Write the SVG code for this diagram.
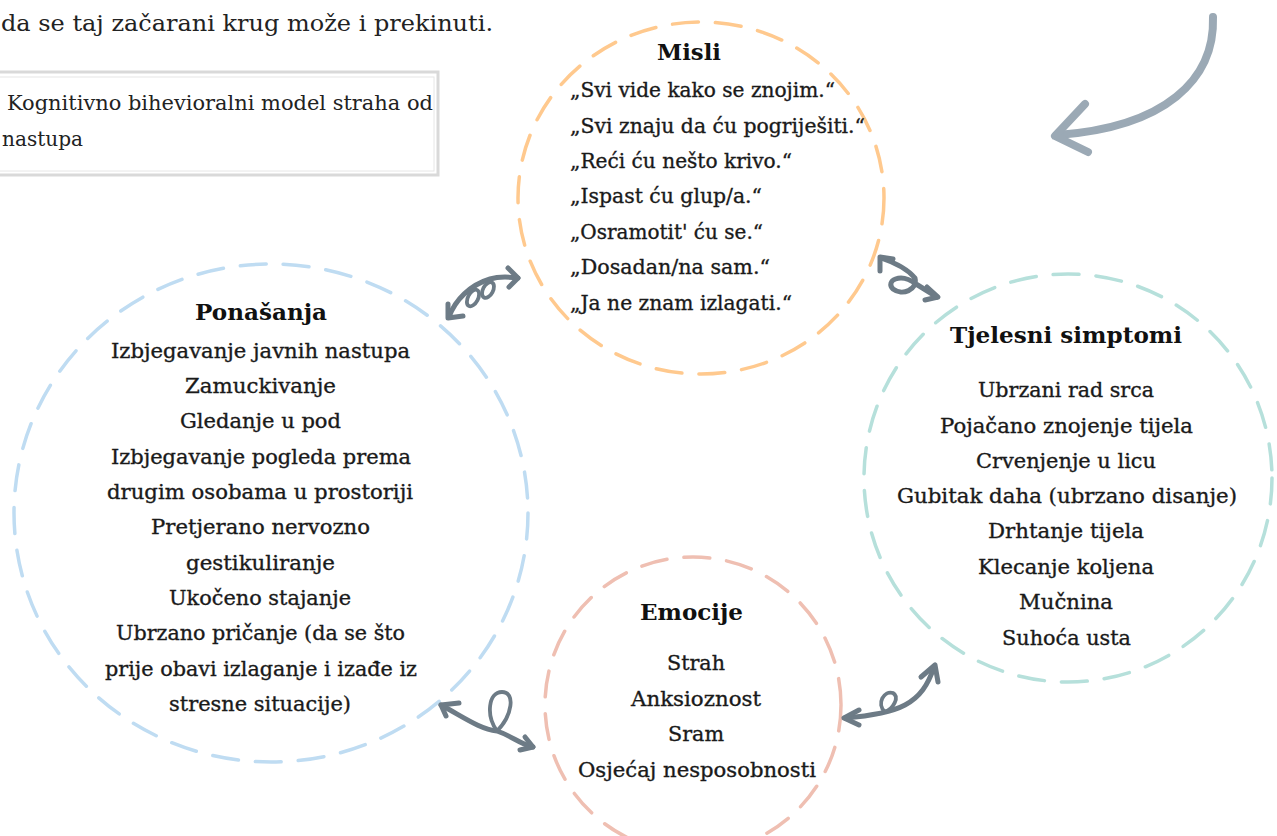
<svg xmlns="http://www.w3.org/2000/svg" width="1277" height="836" viewBox="0 0 1277 836">
<defs>
<style>
.t{font-family:"DejaVu Serif","Liberation Serif",serif;font-size:20.5px;fill:#1a1a1a;stroke:#1a1a1a;stroke-width:0.35}
.h{font-family:"DejaVu Serif","Liberation Serif",serif;font-size:23px;font-weight:bold;fill:#111}
.ring{fill:none;stroke-width:3.5;stroke-linecap:round;stroke-dasharray:26 17}
.arr{fill:none;stroke:#6d7b86;stroke-width:5;stroke-linecap:round;stroke-linejoin:round}
.loop{fill:none;stroke:#6d7b86;stroke-width:3.8}
</style>
</defs>
<rect width="1277" height="836" fill="#fff"/>
<text x="1" y="31" textLength="492" lengthAdjust="spacingAndGlyphs" style="font-family:'DejaVu Serif','Liberation Serif',serif;font-size:23px;fill:#222">da se taj začarani krug može i prekinuti.</text>
<g id="caption">
<rect x="-5" y="72" width="443" height="103" fill="none" stroke="#d9d9d9" stroke-width="3"/>
<rect x="-5" y="77" width="439" height="94" fill="none" stroke="#e6e6e6" stroke-width="1"/>
<text x="7" y="110" textLength="426" lengthAdjust="spacingAndGlyphs" style="font-family:'DejaVu Serif','Liberation Serif',serif;font-size:20.5px;fill:#222">Kognitivno bihevioralni model straha od</text>
<text x="2" y="146" textLength="81" lengthAdjust="spacingAndGlyphs" style="font-family:'DejaVu Serif','Liberation Serif',serif;font-size:20.5px;fill:#222">nastupa</text>
</g>
<g id="misli">
<ellipse class="ring" cx="701" cy="198" rx="183" ry="176" stroke="#ffc98e"/>
<text class="h" x="657" y="60" textLength="64" lengthAdjust="spacingAndGlyphs">Misli</text>
<text class="t" x="570" y="97" textLength="265" lengthAdjust="spacingAndGlyphs">„Svi vide kako se znojim.“</text>
<text class="t" x="570" y="133" textLength="295" lengthAdjust="spacingAndGlyphs">„Svi znaju da ću pogriješiti.“</text>
<text class="t" x="570" y="168" textLength="222" lengthAdjust="spacingAndGlyphs">„Reći ću nešto krivo.“</text>
<text class="t" x="570" y="203" textLength="192" lengthAdjust="spacingAndGlyphs">„Ispast ću glup/a.“</text>
<text class="t" x="570" y="239" textLength="193" lengthAdjust="spacingAndGlyphs">„Osramotit' ću se.“</text>
<text class="t" x="570" y="274" textLength="200" lengthAdjust="spacingAndGlyphs">„Dosadan/na sam.“</text>
<text class="t" x="570" y="310" textLength="222" lengthAdjust="spacingAndGlyphs">„Ja ne znam izlagati.“</text>
</g>
<g id="ponasanja">
<ellipse class="ring" cx="271" cy="513" rx="257" ry="249" stroke="#bfdcf2"/>
<text class="h" x="195" y="320" textLength="132" lengthAdjust="spacingAndGlyphs">Ponašanja</text>
<text class="t" x="111" y="358" textLength="299" lengthAdjust="spacingAndGlyphs">Izbjegavanje javnih nastupa</text>
<text class="t" x="185" y="393" textLength="151" lengthAdjust="spacingAndGlyphs">Zamuckivanje</text>
<text class="t" x="180" y="428" textLength="161" lengthAdjust="spacingAndGlyphs">Gledanje u pod</text>
<text class="t" x="111" y="464" textLength="300" lengthAdjust="spacingAndGlyphs">Izbjegavanje pogleda prema</text>
<text class="t" x="107" y="499" textLength="306" lengthAdjust="spacingAndGlyphs">drugim osobama u prostoriji</text>
<text class="t" x="151" y="534" textLength="219" lengthAdjust="spacingAndGlyphs">Pretjerano nervozno</text>
<text class="t" x="186" y="570" textLength="149" lengthAdjust="spacingAndGlyphs">gestikuliranje</text>
<text class="t" x="169" y="605" textLength="182" lengthAdjust="spacingAndGlyphs">Ukočeno stajanje</text>
<text class="t" x="116" y="640" textLength="289" lengthAdjust="spacingAndGlyphs">Ubrzano pričanje (da se što</text>
<text class="t" x="105" y="676" textLength="312" lengthAdjust="spacingAndGlyphs">prije obavi izlaganje i izađe iz</text>
<text class="t" x="169" y="711" textLength="182" lengthAdjust="spacingAndGlyphs">stresne situacije)</text>
</g>
<g id="tjelesni">
<circle class="ring" cx="1068" cy="478" r="204" stroke="#b6e0db"/>
<text class="h" x="950" y="343" textLength="232" lengthAdjust="spacingAndGlyphs">Tjelesni simptomi</text>
<text class="t" x="978" y="397" textLength="176" lengthAdjust="spacingAndGlyphs">Ubrzani rad srca</text>
<text class="t" x="940" y="433" textLength="253" lengthAdjust="spacingAndGlyphs">Pojačano znojenje tijela</text>
<text class="t" x="976" y="468" textLength="180" lengthAdjust="spacingAndGlyphs">Crvenjenje u licu</text>
<text class="t" x="897" y="503" textLength="340" lengthAdjust="spacingAndGlyphs">Gubitak daha (ubrzano disanje)</text>
<text class="t" x="988" y="538" textLength="156" lengthAdjust="spacingAndGlyphs">Drhtanje tijela</text>
<text class="t" x="978" y="574" textLength="176" lengthAdjust="spacingAndGlyphs">Klecanje koljena</text>
<text class="t" x="1019" y="609" textLength="94" lengthAdjust="spacingAndGlyphs">Mučnina</text>
<text class="t" x="1002" y="645" textLength="129" lengthAdjust="spacingAndGlyphs">Suhoća usta</text>
</g>
<g id="emocije">
<circle class="ring" cx="693" cy="705" r="148" stroke="#efbfb2"/>
<text class="h" x="640" y="620" textLength="103" lengthAdjust="spacingAndGlyphs">Emocije</text>
<text class="t" x="667" y="670" textLength="58" lengthAdjust="spacingAndGlyphs">Strah</text>
<text class="t" x="631" y="706" textLength="130" lengthAdjust="spacingAndGlyphs">Anksioznost</text>
<text class="t" x="668" y="741" textLength="56" lengthAdjust="spacingAndGlyphs">Sram</text>
<text class="t" x="578" y="777" textLength="238" lengthAdjust="spacingAndGlyphs">Osjećaj nesposobnosti</text>
</g>
<g id="connectors">
<path class="arr" d="M449,317 C455,300 470,285 490,279 C500,276 510,277 518,278"/>
<ellipse class="loop" cx="473" cy="298" rx="5" ry="9" transform="rotate(28 473 298)"/>
<ellipse class="loop" cx="488" cy="290" rx="5" ry="8.5" transform="rotate(28 488 290)"/>
<path class="arr" d="M448,304 L448,318 L463,316"/>
<path class="arr" d="M508,268 L518,278 L509,287"/>
<path class="arr" d="M881,258 Q905,266 915,278 C918,290 902,296 893,289 C885,281 900,272 916,284 L937,297"/>
<path class="arr" d="M880,271 L880,257 L893,259"/>
<path class="arr" d="M927,287 L938,297 L925,300"/>
<path class="arr" d="M441,705 C465,718 480,729 497,731 C512,736 520,744 533,747"/>
<path class="loop" d="M497,731 C486,716 488,692 502,692 C516,692 512,716 497,731"/>
<path class="arr" d="M459,703 L441,705 L446,716"/>
<path class="arr" d="M525,737 L533,747 L520,750"/>
<path class="arr" d="M845,718 C870,716 890,713 905,705 C920,697 928,685 934,667"/>
<path class="loop" d="M885,712 C876,704 884,690 893,693 C900,697 893,709 885,712"/>
<path class="arr" d="M859,710 L844,718 L859,725"/>
<path class="arr" d="M921,677 L935,665 L938,682"/>
<path d="M1213,17 C1215,80 1165,127 1058,135" fill="none" stroke="#9ba9b5" stroke-width="8" stroke-linecap="round"/>
<path d="M1085,104 L1055,136 L1088,152" fill="none" stroke="#9ba9b5" stroke-width="8" stroke-linecap="round" stroke-linejoin="round"/>
</g>
</svg>
